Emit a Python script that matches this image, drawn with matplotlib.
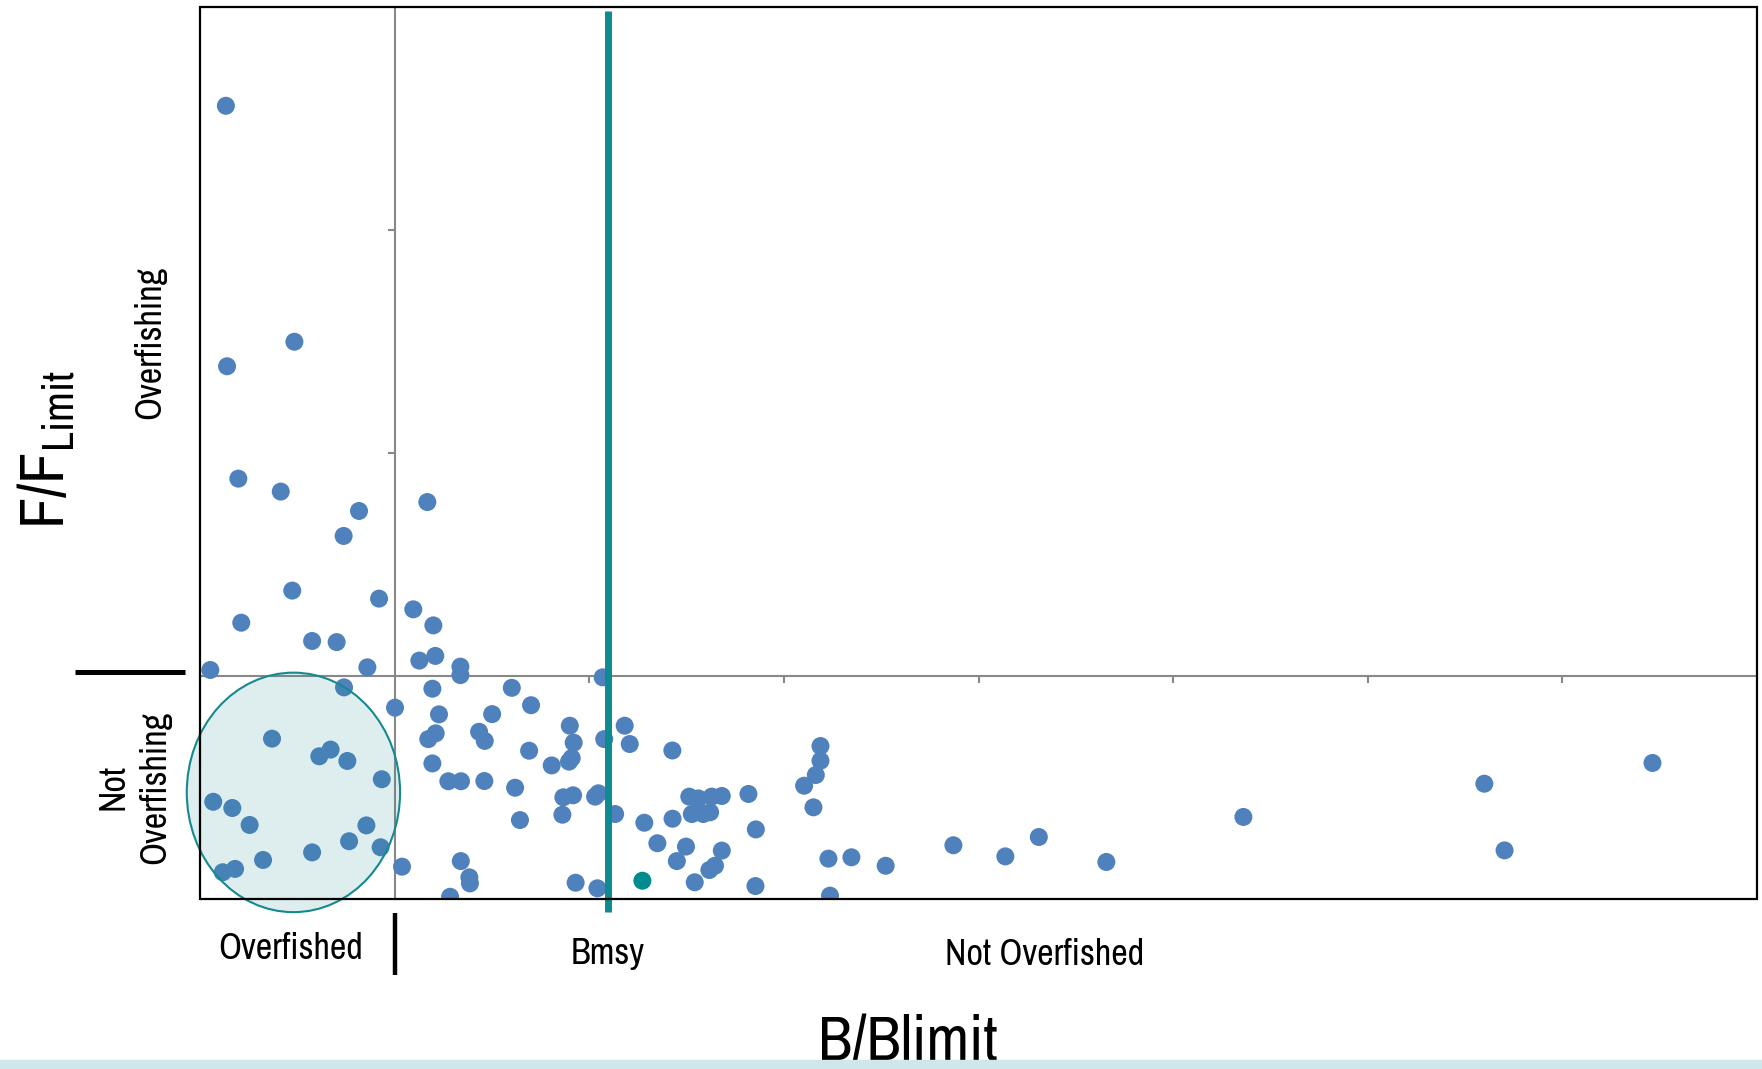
import numpy as np
import matplotlib.pyplot as plt
from matplotlib import font_manager as fm
from matplotlib.patches import Ellipse, Rectangle

# B/Blimit and F/Flimit of each stock
b_ratio = [0.133, 0.139, 0.485, 0.197, 0.415, 1.168, 0.817, 0.738, 0.474, 0.920,
           1.096, 0.212, 1.199, 0.576, 0.702, 1.127, 1.209, 1.338, 1.338, 0.053,
           0.860, 0.740, 1.194, 1.002, 1.228, 1.173, 1.211, 1.194, 1.276, 1.341,
           0.370, 0.613, 0.671, 0.757, 0.934, 0.068, 0.166, 0.255, 0.855, 0.766,
           0.928, 0.576, 0.324, 0.117, 0.180, 1.038, 1.340, 1.384, 1.387, 1.285,
           2.069, 1.602, 1.701, 1.501, 1.900, 2.182, 2.077, 2.208, 1.920, 1.434,
           1.463, 1.691, 2.427, 1.807, 1.896, 1.910, 1.461, 1.619, 1.867, 1.917,
           2.030, 2.047, 1.862, 1.644, 2.133, 2.283, 2.428, 2.350, 2.497, 2.450,
           1.930, 2.042, 2.514, 2.561, 2.629, 2.681, 2.527, 2.586, 2.621, 2.818,
           2.856, 2.681, 2.646, 2.617, 2.542, 2.854, 3.188, 3.188, 3.164, 3.104,
           3.152, 3.229, 3.347, 3.523, 3.237, 3.871, 4.138, 4.310, 4.657, 5.361,
           6.599, 6.703, 7.463]
f_ratio = [3.557, 2.389, 2.499, 1.885, 1.827, 1.780, 1.740, 1.628, 1.383, 1.347,
           1.299, 1.239, 1.227, 1.157, 1.152, 1.069, 1.090, 1.042, 1.004, 1.027,
           1.039, 0.949, 0.943, 0.858, 0.828, 0.717, 0.743, 0.608, 0.528, 0.528,
           0.719, 0.640, 0.670, 0.619, 0.537, 0.436, 0.408, 0.332, 0.330, 0.259,
           0.232, 0.209, 0.175, 0.120, 0.135, 0.145, 0.170, 0.097, 0.070, 0.010,
           0.994, 0.947, 0.869, 0.829, 0.777, 0.777, 0.717, 0.695, 0.701, 0.750,
           0.709, 0.665, 0.666, 0.599, 0.616, 0.632, 0.529, 0.499, 0.456, 0.465,
           0.459, 0.474, 0.378, 0.354, 0.381, 0.342, 0.360, 0.250, 0.235, 0.170,
           0.073, 0.048, 0.459, 0.451, 0.459, 0.462, 0.381, 0.381, 0.389, 0.471,
           0.312, 0.217, 0.149, 0.130, 0.075, 0.058, 0.686, 0.620, 0.556, 0.508,
           0.411, 0.181, 0.187, 0.149, 0.015, 0.241, 0.191, 0.278, 0.166, 0.368,
           0.517, 0.218, 0.610]
focus_b = [2.273]
focus_f = [0.082]

b_limit = 1.0
f_limit = 1.0
b_msy = 2.094

# narrow sans if there is one, else the default
installed = {f.name for f in fm.fontManager.ttflist}
narrow = ['Liberation Sans Narrow', 'Arial Narrow', 'Archivo Narrow', 'Roboto Condensed',
          'PT Sans Narrow', 'Fira Sans Condensed', 'IBM Plex Sans Condensed',
          'Liberation Sans', 'DejaVu Sans']
font = [n for n in narrow if n in installed][0]
plt.rcParams['font.family'] = [font, 'DejaVu Sans']
plt.rcParams['mathtext.fontset'] = 'custom'
plt.rcParams['mathtext.rm'] = font

W, H = 1762, 1069
fig = plt.figure(figsize=(W / 100, H / 100), dpi=100)
ax = fig.add_axes([200 / W, 1 - 899 / H, 1557 / W, 892 / H])
ax.set_xlim(0, 8)
ax.set_ylim(0, 4)

grey = '#888888'
ax.spines['left'].set_position(('data', b_limit))
ax.spines['bottom'].set_position(('data', f_limit))
for s in ['left', 'bottom']:
    ax.spines[s].set_color(grey)
    ax.spines[s].set_linewidth(1.5)
ax.spines['top'].set_visible(False)
ax.spines['right'].set_visible(False)
ax.set_xticks([2, 3, 4, 5, 6, 7])
ax.set_yticks([2, 3])
ax.tick_params(direction='out', length=5, width=1.5, color=grey,
               labelbottom=False, labelleft=False)
ax.add_patch(Rectangle((0, 0), 1, 1, transform=ax.transAxes, fill=False,
                       ec='black', lw=1.6, clip_on=False, zorder=6))

ax.scatter(b_ratio, f_ratio, s=168, color='#4f81bd', edgecolors='none', zorder=3)
ax.scatter(focus_b, focus_f, s=168, color='#008b8f', edgecolors='none', zorder=3)

ax.add_patch(Ellipse((0.480, 0.478), 1.096, 1.074, fc=(0.09, 0.54, 0.56, 0.14),
                     ec='#15898f', lw=1.5, clip_on=False, zorder=4))
ax.plot([b_msy, b_msy], [-0.057, 3.982], color='#0e8a91', lw=5, clip_on=False,
        zorder=5, solid_capstyle='butt')

# black marker bars at the limits
ax.plot([-0.642, -0.077], [1.018, 1.018], color='black', lw=3.6, clip_on=False,
        solid_capstyle='butt')
ax.plot([1.0, 1.0], [-0.065, -0.343], color='black', lw=3.2, clip_on=False,
        solid_capstyle='butt')

fig.text(46 / W, 1 - 450 / H, r'F/F$_{\mathrm{Limit}}$', fontsize=45,
         rotation=90, ha='center', va='center')
fig.text(150 / W, 1 - 342 / H, 'Overfishing', fontsize=26, rotation=90,
         ha='center', va='center')
fig.text(134 / W, 1 - 787 / H, 'Not\nOverfishing', fontsize=26, rotation=90,
         ha='center', va='center', multialignment='center', linespacing=1.3)
fig.text(291 / W, 1 - 959 / H, 'Overfished', fontsize=26, ha='center',
         va='baseline')
fig.text(608 / W, 1 - 964 / H, 'Bmsy', fontsize=26, ha='center', va='baseline')
fig.text(1045 / W, 1 - 965 / H, 'Not Overfished', fontsize=26, ha='center',
         va='baseline')
fig.text(908 / W, 1 - 1060 / H, 'B/Blimit', fontsize=45, ha='center',
         va='baseline')

fig.add_artist(Rectangle((0, 0), 1, 9 / H, transform=fig.transFigure,
                         color='#cfe7eb', zorder=10))

fig.savefig('out.png', dpi=100)
